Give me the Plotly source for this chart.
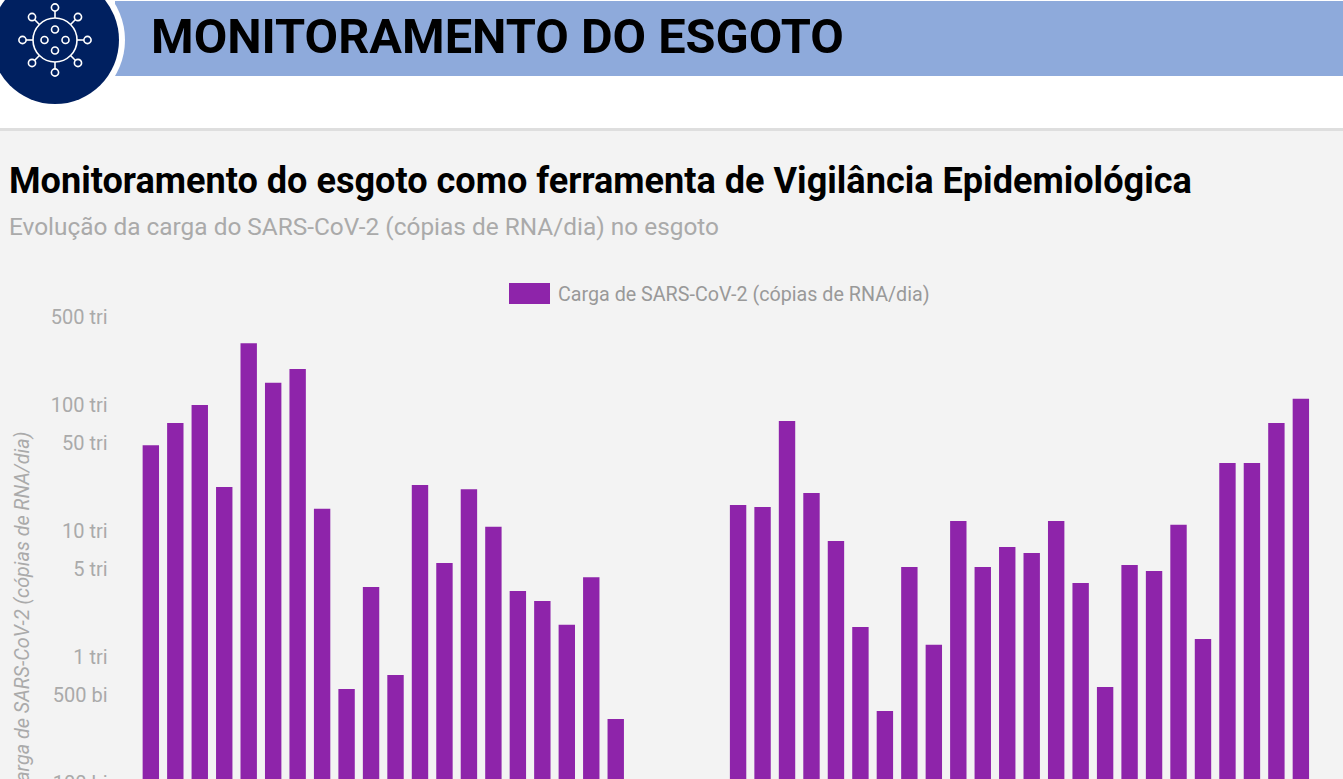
import math
import plotly.graph_objects as go

W, H = 1343, 1000

TITLE_HEADER = "MONITORAMENTO DO ESGOTO"
TITLE = "Monitoramento do esgoto como ferramenta de Vigilância Epidemiológica"
SUBTITLE = "Evolução da carga do SARS-CoV-2 (cópias de RNA/dia) no esgoto"
SERIES = "Carga de SARS-CoV-2 (cópias de RNA/dia)"

semanas = list(range(1, 49))
carga_tri = [
    48, 72, 100, 22.4, 310, 150, 193, 15, 0.557, 3.6,
    0.72, 23.2, 5.57, 21.5, 10.8, 3.34, 2.78, 1.8, 4.3, 0.322,
    None, None, None, None,
    16.1, 15.5, 74.6, 20, 8.33, 1.73, 0.373, 5.18, 1.25, 12,
    5.18, 7.46, 6.69, 12, 3.87, 0.578, 5.37, 4.81, 11.2, 1.39,
    34.7, 34.7, 72, 112,
]
tick_vals = [500, 100, 50, 10, 5, 1, 0.5, 0.1, 0.05, 0.01]
tick_text = ["500 tri", "100 tri", "50 tri", "10 tri", "5 tri", "1 tri",
             "500 bi", "100 bi", "50 bi", "10 bi"]

PURPLE = "#8e24aa"
NAVY = "#002060"
BAND = "#8eaadb"
BG = "#f3f3f3"
GRAY = "#aaaaaa"


def px(x):
    return x / W


def py(y):
    return 1 - y / H


def rect(x0, y0, x1, y1, color):
    return dict(type="rect", xref="paper", yref="paper", x0=px(x0), x1=px(x1),
                y0=py(y1), y1=py(y0), fillcolor=color, line_width=0, layer="below")


def circle(cx, cy, r, fill=None, line=None, lw=0, layer="above"):
    return dict(type="circle", xref="paper", yref="paper",
                x0=px(cx - r), x1=px(cx + r), y0=py(cy + r), y1=py(cy - r),
                fillcolor=fill or "rgba(0,0,0,0)",
                line=dict(color=line or "rgba(0,0,0,0)", width=lw), layer=layer)


def seg(x0, y0, x1, y1):
    return dict(type="line", xref="paper", yref="paper", x0=px(x0), x1=px(x1),
                y0=py(y0), y1=py(y1), line=dict(color="white", width=1.6))


CX, CY = 55, 40
shapes = [
    rect(0, 130, W, H, BG),
    rect(0, 128, W, 131, "#dedede"),
    rect(115, 1, W, 76, BAND),
    circle(CX, CY, 70, fill="white"),
    circle(CX, CY, 64, fill=NAVY),
    circle(CX, CY, 22, line="white", lw=1.6),
    rect(509, 283, 550, 304, PURPLE),
]
for k in range(8):
    a = k * math.pi / 4
    c, s = math.cos(a), math.sin(a)
    shapes.append(seg(CX + 22 * c, CY + 22 * s, CX + 29 * c, CY + 29 * s))
    shapes.append(circle(CX + 32.5 * c, CY + 32.5 * s, 3.6, line="white", lw=1.6))
for dx, dy in [(0, -10.5), (-10.5, 0), (10.5, 0), (0, 10.5)]:
    shapes.append(circle(CX + dx, CY + dy, 3.5, line="white", lw=1.6))


def label(text, x, y, size, color, bold=False, anchor="left"):
    return dict(text=text, x=px(x), y=py(y), xref="paper", yref="paper",
                xanchor=anchor, yanchor="middle", showarrow=False,
                font=dict(family="Roboto", size=size, color=color,
                          weight=700 if bold else 400))


annotations = [
    label(TITLE_HEADER, 149, 36, 48.7, "#000000", bold=True),
    label(TITLE, 7, 181, 36.1, "#000000", bold=True),
    label(SUBTITLE, 7, 227, 24.4, GRAY),
    label(SERIES, 556, 294, 19.7, "#999999"),
]

fig = go.Figure(go.Bar(x=semanas, y=carga_tri, name=SERIES, marker_color=PURPLE,
                       marker_line_width=0, showlegend=False))
fig.update_layout(
    width=W, height=H, margin=dict(l=0, r=0, t=0, b=0, pad=0, autoexpand=False),
    paper_bgcolor="white", plot_bgcolor="rgba(0,0,0,0)",
    bargap=0.33, shapes=shapes, annotations=annotations,
    font=dict(family="Roboto"),
    xaxis=dict(domain=[px(138.6), px(1313.1)], range=[0.5, 48.5],
               showticklabels=False, showgrid=False, zeroline=False, ticks=""),
    yaxis=dict(domain=[py(909), py(317)], type="log", range=[-2, math.log10(500)],
               tickvals=tick_vals, ticktext=tick_text, showgrid=False, zeroline=False,
               showline=False, ticks="", ticklabelstandoff=30,
               tickfont=dict(family="Roboto", size=20, color=GRAY),
               title=dict(text="Carga de SARS-CoV-2 (cópias de RNA/dia)", standoff=15,
                          font=dict(family="Roboto", size=19.8, color=GRAY, style="italic"))),
)
fig.write_html(
    "out.html",
    config=dict(displayModeBar=False),
    post_script="document.documentElement.style.overflow='hidden';"
                "document.body.style.overflow='hidden';document.body.style.margin='0';",
)
